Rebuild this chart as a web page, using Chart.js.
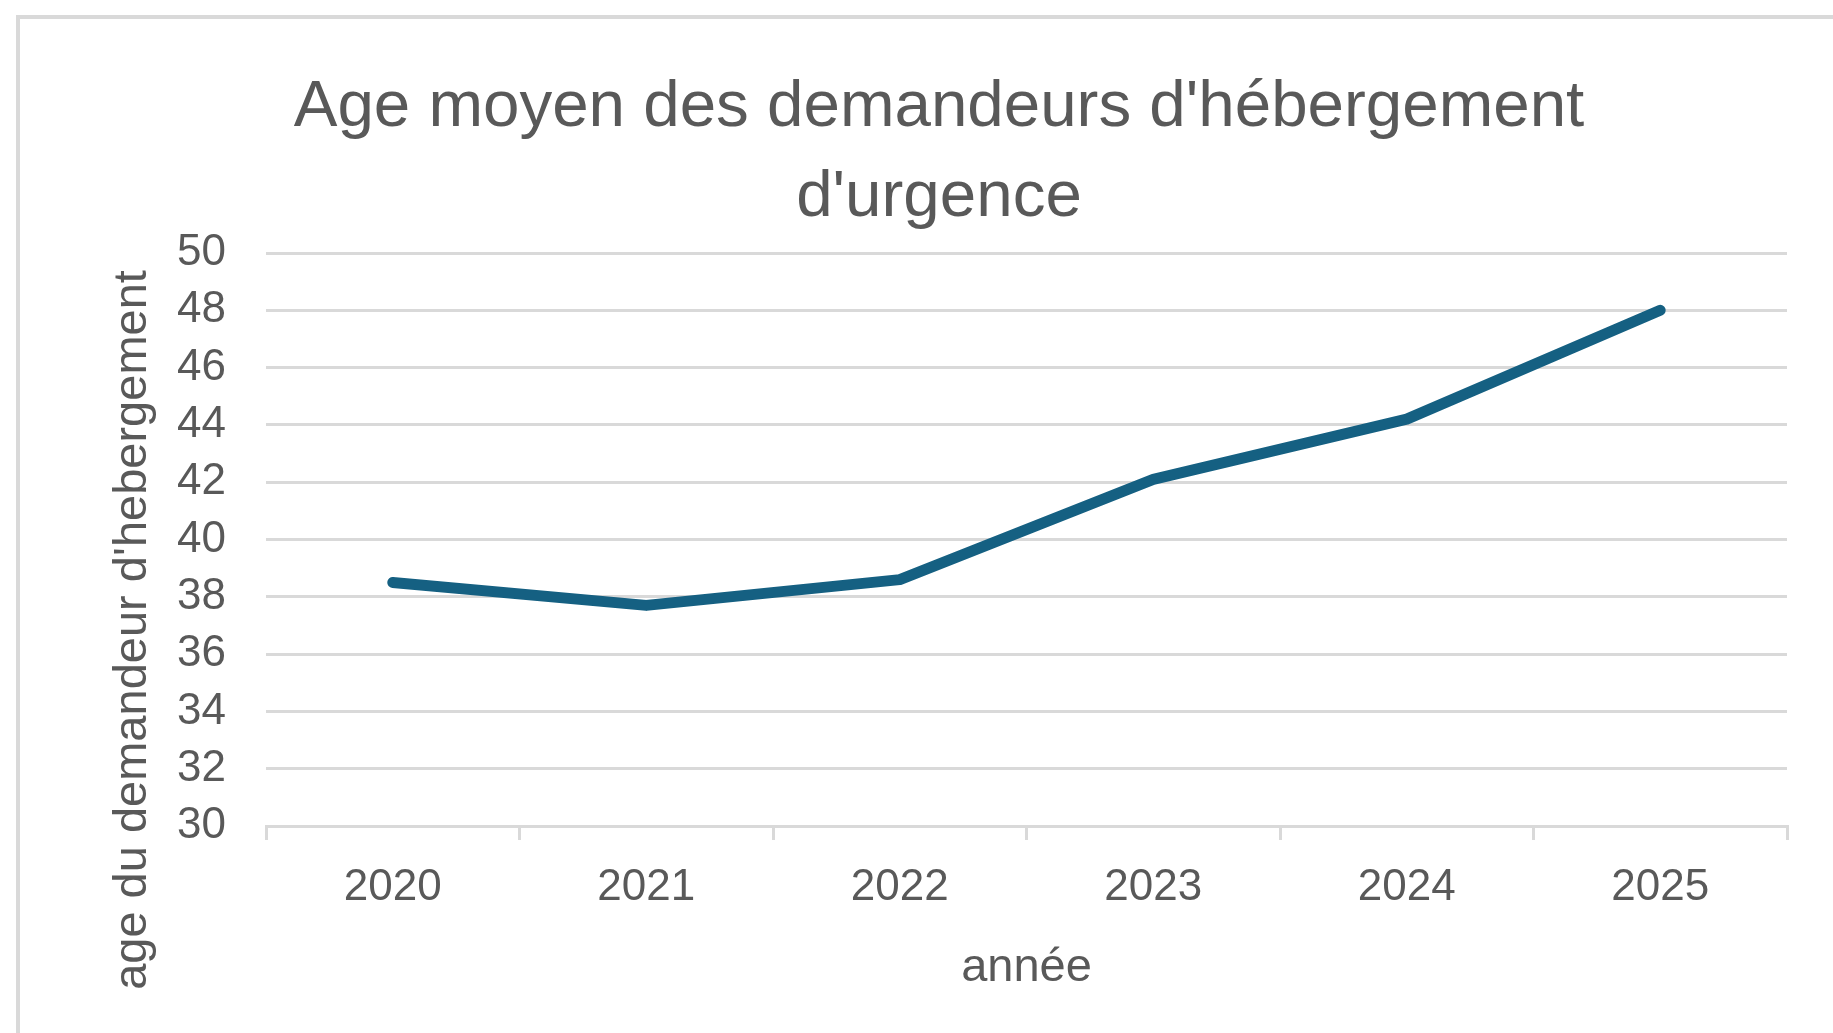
<!DOCTYPE html>
<html>
<head>
<meta charset="utf-8">
<script src="https://cdn.jsdelivr.net/npm/chart.js@4"></script>
<style>
  body { margin: 0; background: #fff; }
  #cadre { position: absolute; left: 16px; top: 15px; width: 1900px; height: 1100px;
           border-top: 4px solid #d9d9d9; border-left: 4px solid #d9d9d9; }
  #myChart { position: absolute; left: 0; top: 0; }
</style>
</head>
<body>
<div id="cadre"></div>
<canvas id="myChart" width="1833" height="1033"></canvas>
<script>
const annees = ['2020', '2021', '2022', '2023', '2024', '2025'];
const ageMoyen = [38.5, 37.7, 38.6, 42.1, 44.2, 48.0];
const titre = ["Age moyen des demandeurs d'hébergement", "d'urgence"];
const titreY = "age du demandeur d'hebergement";
const titreX = 'année';
const yMin = 30;
const yMax = 50;
const yPas = 2;

const gris = '#595959';
const grille = '#d9d9d9';
const police = "'Liberation Sans', Arial, sans-serif";

// titre de l'axe vertical, placé comme dans Excel (il déborde sous l'axe)
const titreAxeY = {
  id: 'titreAxeY',
  afterDraw(chart) {
    const ctx = chart.ctx;
    ctx.save();
    ctx.translate(133, 630);
    ctx.rotate(-Math.PI / 2);
    ctx.font = '47px ' + police;
    ctx.fillStyle = gris;
    ctx.textAlign = 'center';
    ctx.textBaseline = 'middle';
    ctx.fillText(titreY, 0, 0);
    ctx.restore();
  }
};

const ctx = document.getElementById('myChart');

new Chart(ctx, {
  type: 'line',
  data: {
    labels: annees,
    datasets: [{
      data: ageMoyen,
      borderColor: '#156082',
      borderWidth: 11,
      borderCapStyle: 'round',
      borderJoinStyle: 'round',
      pointRadius: 0,
      tension: 0,
      fill: false
    }]
  },
  options: {
    responsive: false,
    animation: false,
    devicePixelRatio: 1,
    layout: { padding: { left: 91, right: 46, top: 0, bottom: 0 } },
    plugins: {
      legend: { display: false },
      tooltip: { enabled: false },
      title: {
        display: true,
        text: titre,
        color: gris,
        font: { family: police, size: 65.5, weight: 'normal', lineHeight: '90px' },
        padding: { top: 63, bottom: 10 }
      }
    },
    scales: {
      x: {
        offset: true,
        grid: {
          offset: true,
          drawOnChartArea: false,
          drawTicks: true,
          tickLength: 14,
          color: grille,
          lineWidth: 3
        },
        border: { display: true, color: grille, width: 3 },
        ticks: { color: gris, font: { family: police, size: 44 }, padding: 21, maxRotation: 0 },
        title: {
          display: true,
          text: titreX,
          color: gris,
          font: { family: police, size: 47 },
          padding: { top: 0, bottom: 37 }
        },
        afterFit(scale) { scale.height = 207; }
      },
      y: {
        min: yMin,
        max: yMax,
        grid: { color: grille, lineWidth: 3, drawTicks: false },
        border: { display: false },
        ticks: { stepSize: yPas, color: gris, font: { family: police, size: 44 }, padding: 40 },
        afterFit(scale) { scale.width = 175; }
      }
    }
  },
  plugins: [titreAxeY]
});
</script>
</body>
</html>
